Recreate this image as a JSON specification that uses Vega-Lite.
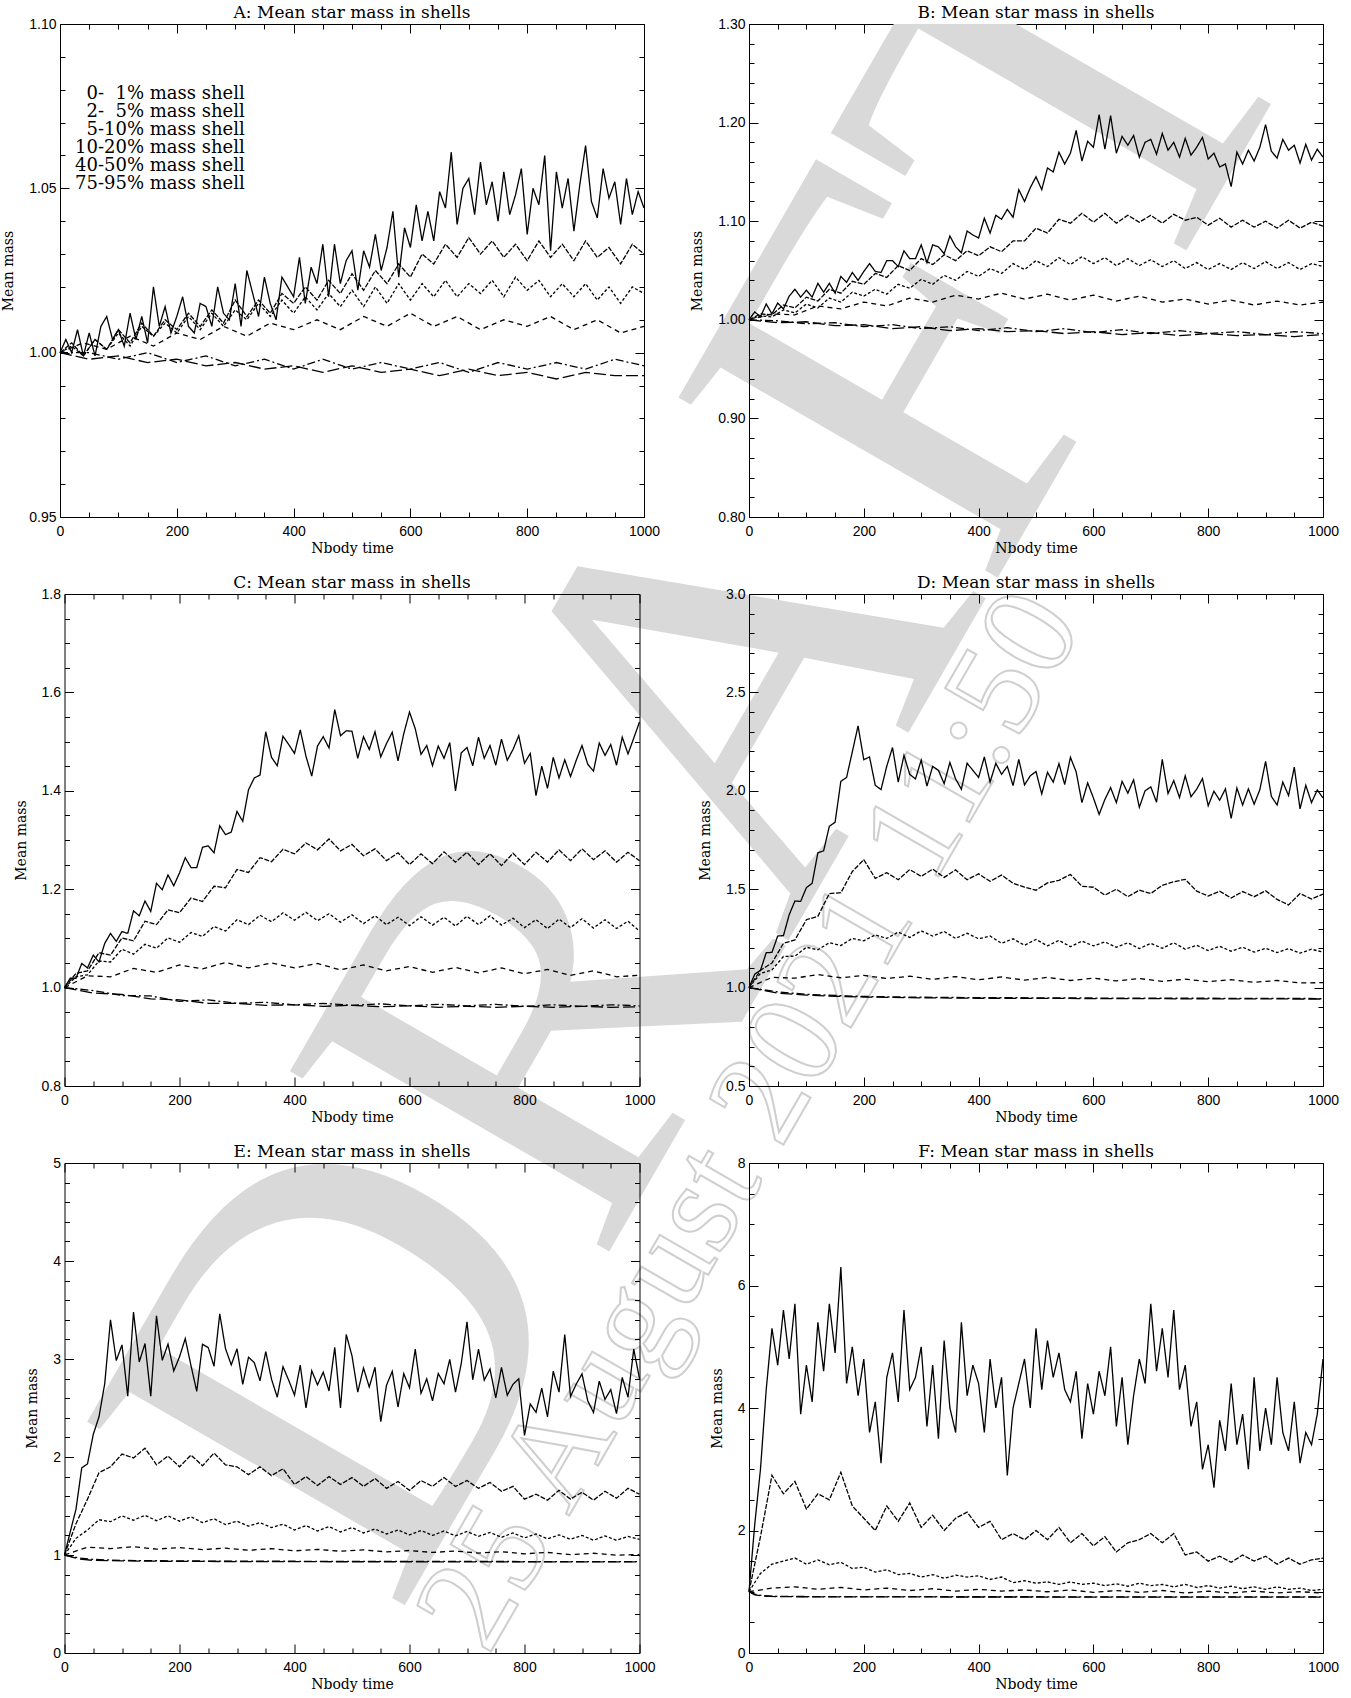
{
"$schema":"https://vega.github.io/schema/vega-lite/v6.json",
"padding":{"left":1,"top":3,"right":14,"bottom":4},
"background":"white",
"bounds":"flush",
"center":true,
"columns":2,
"spacing":{"row":77,"column":105},
"config":{
 "view":{"stroke":"black","strokeWidth":1},
 "axis":{"domain":false,"grid":false,"zindex":1,"tickColor":"black","tickSize":-9,"tickWidth":1,"labelFont":"Liberation Sans","labelFontSize":14,"labelColor":"black","labelFlush":false,"labelOverlap":false,"labelPadding":13,"titleFont":"DejaVu Serif","titleFontSize":14,"titleFontWeight":"normal","titleColor":"black","minExtent":0},
 "axisBottom":{"labelPadding":16,"titlePadding":3,"format":"d"},
 "axisLeft":{"titlePadding":13},
 "title":{"font":"DejaVu Serif","fontSize":17,"fontWeight":"normal","color":"black","offset":-5,"anchor":"middle"},
 "legend":{"labelFont":"DejaVu Serif","labelFontSize":18,"labelColor":"black","labelLimit":400,"symbolSize":0,"symbolOpacity":0,"symbolStrokeWidth":0,"labelOffset":0,"rowPadding":0,"padding":0}
},
"concat":[
{"width":584,"height":493,"data":{"name":"A"},"title":"A: Mean star mass in shells",
"layer":[
{"data":{"values":[{}]},"mark":{"type":"text","text":"D","font":"Liberation Serif","fontSize":560,"angle":300,"fill":"#d9d9d9","align":"center","baseline":"middle"},"encoding":{"x":{"datum":500.5,"type":"quantitative","axis":null},"y":{"datum":0.6935,"type":"quantitative","axis":null}}},
{"data":{"values":[{}]},"mark":{"type":"text","text":"R","font":"Liberation Serif","fontSize":560,"angle":300,"fill":"#d9d9d9","align":"center","baseline":"middle"},"encoding":{"x":{"datum":834.4,"type":"quantitative","axis":null},"y":{"datum":0.7961,"type":"quantitative","axis":null}}},
{"data":{"values":[{}]},"mark":{"type":"text","text":"A","font":"Liberation Serif","fontSize":560,"angle":300,"fill":"#d9d9d9","align":"center","baseline":"middle"},"encoding":{"x":{"datum":1166.6,"type":"quantitative","axis":null},"y":{"datum":0.8986,"type":"quantitative","axis":null}}},
{"data":{"values":[{}]},"mark":{"type":"text","text":"F","font":"Liberation Serif","fontSize":560,"angle":300,"fill":"#d9d9d9","align":"center","baseline":"middle"},"encoding":{"x":{"datum":1473.1,"type":"quantitative","axis":null},"y":{"datum":0.9929,"type":"quantitative","axis":null}}},
{"data":{"values":[{}]},"mark":{"type":"text","text":"25 August 2021 11:50","font":"Liberation Serif","fontSize":135,"angle":300,"fill":"white","stroke":"#cfcfcf","strokeWidth":2,"align":"center","baseline":"middle"},"encoding":{"x":{"datum":1182.0,"type":"quantitative","axis":null},"y":{"datum":0.7665,"type":"quantitative","axis":null}}},
{"mark":{"type":"line","color":"black","strokeWidth":1.3},
"encoding":{
"x":{"field":"t","type":"quantitative","scale":{"domain":[0,1000],"nice":false},"axis":{"orient":"bottom","values":[0,200,400,600,800,1000],"title":"Nbody time"}},
"y":{"field":"m","type":"quantitative","scale":{"domain":[0.95,1.1],"nice":false,"zero":false},"axis":{"orient":"left","values":[0.95,1,1.05,1.1],"format":".2f","title":"Mean mass"}},
"strokeDash":{"field":"s","type":"nominal","scale":{"domain":[1,2,3,4,5,6],"range":[[1,0],[5,1.5],[3,2],[5,4],[8,3,2,3],[12,4]]},"legend":{"orient":"none","legendX":-3,"legendY":61,"title":null,"labelExpr":"['','\u200b\u20070-\u20071%','\u200b\u20072-\u20075%','\u200b\u20075-10%','10-20%','40-50%','75-95%'][datum.value] + ' mass shell'"}}}},
{"mark":{"type":"line","opacity":0},"encoding":{"x":{"field":"t","type":"quantitative","axis":{"orient":"top","values":[0,200,400,600,800,1000],"labels":false,"title":null}},"y":{"field":"m","type":"quantitative","axis":{"orient":"right","values":[0.95,1,1.05,1.1],"labels":false,"title":null}},"detail":{"field":"s"}}},
{"mark":{"type":"line","opacity":0},"encoding":{"x":{"field":"t","type":"quantitative","axis":{"orient":"bottom","values":[50,100,150,250,300,350,450,500,550,650,700,750,850,900,950],"labels":false,"tickSize":-5,"title":null}},"y":{"field":"m","type":"quantitative","axis":{"orient":"left","values":[0.96,0.97,0.98,0.99,1.01,1.02,1.03,1.04,1.06,1.07,1.08,1.09],"labels":false,"tickSize":-5,"title":null}},"detail":{"field":"s"}}},
{"mark":{"type":"line","opacity":0},"encoding":{"x":{"field":"t","type":"quantitative","axis":{"orient":"top","values":[50,100,150,250,300,350,450,500,550,650,700,750,850,900,950],"labels":false,"tickSize":-5,"title":null}},"y":{"field":"m","type":"quantitative","axis":{"orient":"right","values":[0.96,0.97,0.98,0.99,1.01,1.02,1.03,1.04,1.06,1.07,1.08,1.09],"labels":false,"tickSize":-5,"title":null}},"detail":{"field":"s"}}}
],
"resolve":{"axis":{"x":"independent","y":"independent"}}},
{"width":574,"height":493,"data":{"name":"B"},"title":"B: Mean star mass in shells",
"layer":[
{"data":{"values":[{}]},"mark":{"type":"text","text":"T","font":"Liberation Serif","fontSize":560,"angle":300,"fill":"#d9d9d9","align":"center","baseline":"middle","clip":true},"encoding":{"x":{"datum":582.4,"type":"quantitative","axis":null},"y":{"datum":1.23,"type":"quantitative","axis":null}}},
{"mark":{"type":"line","color":"black","strokeWidth":1.3},
"encoding":{
"x":{"field":"t","type":"quantitative","scale":{"domain":[0,1000],"nice":false},"axis":{"orient":"bottom","values":[0,200,400,600,800,1000],"title":"Nbody time"}},
"y":{"field":"m","type":"quantitative","scale":{"domain":[0.8,1.3],"nice":false,"zero":false},"axis":{"orient":"left","values":[0.8,0.9,1,1.1,1.2,1.3],"format":".2f","title":"Mean mass"}},
"strokeDash":{"field":"s","type":"nominal","scale":{"domain":[1,2,3,4,5,6],"range":[[1,0],[5,1.5],[3,2],[5,4],[8,3,2,3],[12,4]]}}}},
{"mark":{"type":"line","opacity":0},"encoding":{"x":{"field":"t","type":"quantitative","axis":{"orient":"top","values":[0,200,400,600,800,1000],"labels":false,"title":null}},"y":{"field":"m","type":"quantitative","axis":{"orient":"right","values":[0.8,0.9,1,1.1,1.2,1.3],"labels":false,"title":null}},"detail":{"field":"s"}}},
{"mark":{"type":"line","opacity":0},"encoding":{"x":{"field":"t","type":"quantitative","axis":{"orient":"bottom","values":[50,100,150,250,300,350,450,500,550,650,700,750,850,900,950],"labels":false,"tickSize":-5,"title":null}},"y":{"field":"m","type":"quantitative","axis":{"orient":"left","values":[0.82,0.84,0.86,0.88,0.92,0.94,0.96,0.98,1.02,1.04,1.06,1.08,1.12,1.14,1.16,1.18,1.22,1.24,1.26,1.28],"labels":false,"tickSize":-5,"title":null}},"detail":{"field":"s"}}},
{"mark":{"type":"line","opacity":0},"encoding":{"x":{"field":"t","type":"quantitative","axis":{"orient":"top","values":[50,100,150,250,300,350,450,500,550,650,700,750,850,900,950],"labels":false,"tickSize":-5,"title":null}},"y":{"field":"m","type":"quantitative","axis":{"orient":"right","values":[0.82,0.84,0.86,0.88,0.92,0.94,0.96,0.98,1.02,1.04,1.06,1.08,1.12,1.14,1.16,1.18,1.22,1.24,1.26,1.28],"labels":false,"tickSize":-5,"title":null}},"detail":{"field":"s"}}}
],
"resolve":{"axis":{"x":"independent","y":"independent"}}},
{"width":575,"height":492,"data":{"name":"C"},"title":"C: Mean star mass in shells",
"layer":[
{"mark":{"type":"line","color":"black","strokeWidth":1.3},
"encoding":{
"x":{"field":"t","type":"quantitative","scale":{"domain":[0,1000],"nice":false},"axis":{"orient":"bottom","values":[0,200,400,600,800,1000],"title":"Nbody time"}},
"y":{"field":"m","type":"quantitative","scale":{"domain":[0.8,1.8],"nice":false,"zero":false},"axis":{"orient":"left","values":[0.8,1,1.2,1.4,1.6,1.8],"format":".1f","title":"Mean mass"}},
"strokeDash":{"field":"s","type":"nominal","scale":{"domain":[1,2,3,4,5,6],"range":[[1,0],[5,1.5],[3,2],[5,4],[8,3,2,3],[12,4]]}}}},
{"mark":{"type":"line","opacity":0},"encoding":{"x":{"field":"t","type":"quantitative","axis":{"orient":"top","values":[0,200,400,600,800,1000],"labels":false,"title":null}},"y":{"field":"m","type":"quantitative","axis":{"orient":"right","values":[0.8,1,1.2,1.4,1.6,1.8],"labels":false,"title":null}},"detail":{"field":"s"}}},
{"mark":{"type":"line","opacity":0},"encoding":{"x":{"field":"t","type":"quantitative","axis":{"orient":"bottom","values":[50,100,150,250,300,350,450,500,550,650,700,750,850,900,950],"labels":false,"tickSize":-5,"title":null}},"y":{"field":"m","type":"quantitative","axis":{"orient":"left","values":[0.85,0.9,0.95,1.05,1.1,1.15,1.25,1.3,1.35,1.45,1.5,1.55,1.65,1.7,1.75],"labels":false,"tickSize":-5,"title":null}},"detail":{"field":"s"}}},
{"mark":{"type":"line","opacity":0},"encoding":{"x":{"field":"t","type":"quantitative","axis":{"orient":"top","values":[50,100,150,250,300,350,450,500,550,650,700,750,850,900,950],"labels":false,"tickSize":-5,"title":null}},"y":{"field":"m","type":"quantitative","axis":{"orient":"right","values":[0.85,0.9,0.95,1.05,1.1,1.15,1.25,1.3,1.35,1.45,1.5,1.55,1.65,1.7,1.75],"labels":false,"tickSize":-5,"title":null}},"detail":{"field":"s"}}}
],
"resolve":{"axis":{"x":"independent","y":"independent"}}},
{"width":574,"height":492,"data":{"name":"D"},"title":"D: Mean star mass in shells",
"layer":[
{"mark":{"type":"line","color":"black","strokeWidth":1.3},
"encoding":{
"x":{"field":"t","type":"quantitative","scale":{"domain":[0,1000],"nice":false},"axis":{"orient":"bottom","values":[0,200,400,600,800,1000],"title":"Nbody time"}},
"y":{"field":"m","type":"quantitative","scale":{"domain":[0.5,3],"nice":false,"zero":false},"axis":{"orient":"left","values":[0.5,1,1.5,2,2.5,3],"format":".1f","title":"Mean mass"}},
"strokeDash":{"field":"s","type":"nominal","scale":{"domain":[1,2,3,4,5,6],"range":[[1,0],[5,1.5],[3,2],[5,4],[8,3,2,3],[12,4]]}}}},
{"mark":{"type":"line","opacity":0},"encoding":{"x":{"field":"t","type":"quantitative","axis":{"orient":"top","values":[0,200,400,600,800,1000],"labels":false,"title":null}},"y":{"field":"m","type":"quantitative","axis":{"orient":"right","values":[0.5,1,1.5,2,2.5,3],"labels":false,"title":null}},"detail":{"field":"s"}}},
{"mark":{"type":"line","opacity":0},"encoding":{"x":{"field":"t","type":"quantitative","axis":{"orient":"bottom","values":[50,100,150,250,300,350,450,500,550,650,700,750,850,900,950],"labels":false,"tickSize":-5,"title":null}},"y":{"field":"m","type":"quantitative","axis":{"orient":"left","values":[0.6,0.7,0.8,0.9,1.1,1.2,1.3,1.4,1.6,1.7,1.8,1.9,2.1,2.2,2.3,2.4,2.6,2.7,2.8,2.9],"labels":false,"tickSize":-5,"title":null}},"detail":{"field":"s"}}},
{"mark":{"type":"line","opacity":0},"encoding":{"x":{"field":"t","type":"quantitative","axis":{"orient":"top","values":[50,100,150,250,300,350,450,500,550,650,700,750,850,900,950],"labels":false,"tickSize":-5,"title":null}},"y":{"field":"m","type":"quantitative","axis":{"orient":"right","values":[0.6,0.7,0.8,0.9,1.1,1.2,1.3,1.4,1.6,1.7,1.8,1.9,2.1,2.2,2.3,2.4,2.6,2.7,2.8,2.9],"labels":false,"tickSize":-5,"title":null}},"detail":{"field":"s"}}}
],
"resolve":{"axis":{"x":"independent","y":"independent"}}},
{"width":575,"height":490,"data":{"name":"E"},"title":"E: Mean star mass in shells",
"layer":[
{"mark":{"type":"line","color":"black","strokeWidth":1.3},
"encoding":{
"x":{"field":"t","type":"quantitative","scale":{"domain":[0,1000],"nice":false},"axis":{"orient":"bottom","values":[0,200,400,600,800,1000],"title":"Nbody time"}},
"y":{"field":"m","type":"quantitative","scale":{"domain":[0,5],"nice":false,"zero":false},"axis":{"orient":"left","values":[0,1,2,3,4,5],"format":"d","title":"Mean mass"}},
"strokeDash":{"field":"s","type":"nominal","scale":{"domain":[1,2,3,4,5,6],"range":[[1,0],[5,1.5],[3,2],[5,4],[8,3,2,3],[12,4]]}}}},
{"mark":{"type":"line","opacity":0},"encoding":{"x":{"field":"t","type":"quantitative","axis":{"orient":"top","values":[0,200,400,600,800,1000],"labels":false,"title":null}},"y":{"field":"m","type":"quantitative","axis":{"orient":"right","values":[0,1,2,3,4,5],"labels":false,"title":null}},"detail":{"field":"s"}}},
{"mark":{"type":"line","opacity":0},"encoding":{"x":{"field":"t","type":"quantitative","axis":{"orient":"bottom","values":[50,100,150,250,300,350,450,500,550,650,700,750,850,900,950],"labels":false,"tickSize":-5,"title":null}},"y":{"field":"m","type":"quantitative","axis":{"orient":"left","values":[0.2,0.4,0.6,0.8,1.2,1.4,1.6,1.8,2.2,2.4,2.6,2.8,3.2,3.4,3.6,3.8,4.2,4.4,4.6,4.8],"labels":false,"tickSize":-5,"title":null}},"detail":{"field":"s"}}},
{"mark":{"type":"line","opacity":0},"encoding":{"x":{"field":"t","type":"quantitative","axis":{"orient":"top","values":[50,100,150,250,300,350,450,500,550,650,700,750,850,900,950],"labels":false,"tickSize":-5,"title":null}},"y":{"field":"m","type":"quantitative","axis":{"orient":"right","values":[0.2,0.4,0.6,0.8,1.2,1.4,1.6,1.8,2.2,2.4,2.6,2.8,3.2,3.4,3.6,3.8,4.2,4.4,4.6,4.8],"labels":false,"tickSize":-5,"title":null}},"detail":{"field":"s"}}}
],
"resolve":{"axis":{"x":"independent","y":"independent"}}},
{"width":574,"height":490,"data":{"name":"F"},"title":"F: Mean star mass in shells",
"layer":[
{"mark":{"type":"line","color":"black","strokeWidth":1.3},
"encoding":{
"x":{"field":"t","type":"quantitative","scale":{"domain":[0,1000],"nice":false},"axis":{"orient":"bottom","values":[0,200,400,600,800,1000],"title":"Nbody time"}},
"y":{"field":"m","type":"quantitative","scale":{"domain":[0,8],"nice":false,"zero":false},"axis":{"orient":"left","values":[0,2,4,6,8],"format":"d","title":"Mean mass"}},
"strokeDash":{"field":"s","type":"nominal","scale":{"domain":[1,2,3,4,5,6],"range":[[1,0],[5,1.5],[3,2],[5,4],[8,3,2,3],[12,4]]}}}},
{"mark":{"type":"line","opacity":0},"encoding":{"x":{"field":"t","type":"quantitative","axis":{"orient":"top","values":[0,200,400,600,800,1000],"labels":false,"title":null}},"y":{"field":"m","type":"quantitative","axis":{"orient":"right","values":[0,2,4,6,8],"labels":false,"title":null}},"detail":{"field":"s"}}},
{"mark":{"type":"line","opacity":0},"encoding":{"x":{"field":"t","type":"quantitative","axis":{"orient":"bottom","values":[50,100,150,250,300,350,450,500,550,650,700,750,850,900,950],"labels":false,"tickSize":-5,"title":null}},"y":{"field":"m","type":"quantitative","axis":{"orient":"left","values":[0.5,1,1.5,2.5,3,3.5,4.5,5,5.5,6.5,7,7.5],"labels":false,"tickSize":-5,"title":null}},"detail":{"field":"s"}}},
{"mark":{"type":"line","opacity":0},"encoding":{"x":{"field":"t","type":"quantitative","axis":{"orient":"top","values":[50,100,150,250,300,350,450,500,550,650,700,750,850,900,950],"labels":false,"tickSize":-5,"title":null}},"y":{"field":"m","type":"quantitative","axis":{"orient":"right","values":[0.5,1,1.5,2.5,3,3.5,4.5,5,5.5,6.5,7,7.5],"labels":false,"tickSize":-5,"title":null}},"detail":{"field":"s"}}}
],
"resolve":{"axis":{"x":"independent","y":"independent"}}}
],
"datasets":{
"A":[
{"s":1,"t":0,"m":1.000},{"s":1,"t":10,"m":1.004},{"s":1,"t":20,"m":1.000},{"s":1,"t":30,"m":1.007},{"s":1,"t":40,"m":0.999},{"s":1,"t":50,"m":1.006},{"s":1,"t":60,"m":0.999},{"s":1,"t":70,"m":1.008},{"s":1,"t":80,"m":1.011},{"s":1,"t":90,"m":1.004},
{"s":1,"t":100,"m":1.007},{"s":1,"t":110,"m":1.002},{"s":1,"t":120,"m":1.012},{"s":1,"t":130,"m":1.004},{"s":1,"t":140,"m":1.011},{"s":1,"t":150,"m":1.003},{"s":1,"t":160,"m":1.020},{"s":1,"t":170,"m":1.008},{"s":1,"t":180,"m":1.014},{"s":1,"t":190,"m":1.006},
{"s":1,"t":200,"m":1.011},{"s":1,"t":210,"m":1.017},{"s":1,"t":220,"m":1.008},{"s":1,"t":230,"m":1.006},{"s":1,"t":240,"m":1.015},{"s":1,"t":250,"m":1.014},{"s":1,"t":260,"m":1.008},{"s":1,"t":270,"m":1.020},{"s":1,"t":280,"m":1.012},{"s":1,"t":290,"m":1.010},
{"s":1,"t":300,"m":1.021},{"s":1,"t":310,"m":1.008},{"s":1,"t":320,"m":1.025},{"s":1,"t":330,"m":1.018},{"s":1,"t":340,"m":1.011},{"s":1,"t":350,"m":1.023},{"s":1,"t":360,"m":1.015},{"s":1,"t":370,"m":1.010},{"s":1,"t":380,"m":1.023},{"s":1,"t":390,"m":1.020},
{"s":1,"t":400,"m":1.017},{"s":1,"t":410,"m":1.029},{"s":1,"t":420,"m":1.015},{"s":1,"t":430,"m":1.026},{"s":1,"t":440,"m":1.021},{"s":1,"t":450,"m":1.033},{"s":1,"t":460,"m":1.017},{"s":1,"t":470,"m":1.033},{"s":1,"t":480,"m":1.021},{"s":1,"t":490,"m":1.028},
{"s":1,"t":500,"m":1.031},{"s":1,"t":510,"m":1.019},{"s":1,"t":520,"m":1.031},{"s":1,"t":530,"m":1.026},{"s":1,"t":540,"m":1.036},{"s":1,"t":550,"m":1.025},{"s":1,"t":560,"m":1.032},{"s":1,"t":570,"m":1.043},{"s":1,"t":580,"m":1.023},{"s":1,"t":590,"m":1.038},
{"s":1,"t":600,"m":1.032},{"s":1,"t":610,"m":1.045},{"s":1,"t":620,"m":1.034},{"s":1,"t":630,"m":1.043},{"s":1,"t":640,"m":1.034},{"s":1,"t":650,"m":1.049},{"s":1,"t":660,"m":1.044},{"s":1,"t":670,"m":1.061},{"s":1,"t":680,"m":1.039},{"s":1,"t":690,"m":1.050},
{"s":1,"t":700,"m":1.053},{"s":1,"t":710,"m":1.042},{"s":1,"t":720,"m":1.058},{"s":1,"t":730,"m":1.045},{"s":1,"t":740,"m":1.052},{"s":1,"t":750,"m":1.040},{"s":1,"t":760,"m":1.055},{"s":1,"t":770,"m":1.042},{"s":1,"t":780,"m":1.048},{"s":1,"t":790,"m":1.056},
{"s":1,"t":800,"m":1.036},{"s":1,"t":810,"m":1.050},{"s":1,"t":820,"m":1.045},{"s":1,"t":830,"m":1.060},{"s":1,"t":840,"m":1.031},{"s":1,"t":850,"m":1.055},{"s":1,"t":860,"m":1.044},{"s":1,"t":870,"m":1.053},{"s":1,"t":880,"m":1.037},{"s":1,"t":890,"m":1.051},
{"s":1,"t":900,"m":1.063},{"s":1,"t":910,"m":1.046},{"s":1,"t":920,"m":1.041},{"s":1,"t":930,"m":1.056},{"s":1,"t":940,"m":1.047},{"s":1,"t":950,"m":1.052},{"s":1,"t":960,"m":1.039},{"s":1,"t":970,"m":1.053},{"s":1,"t":980,"m":1.042},{"s":1,"t":990,"m":1.049},{"s":1,"t":1000,"m":1.044},
{"s":2,"t":0,"m":1.000},{"s":2,"t":20,"m":1.003},{"s":2,"t":40,"m":0.999},{"s":2,"t":60,"m":1.004},{"s":2,"t":80,"m":1.001},{"s":2,"t":100,"m":1.007},{"s":2,"t":120,"m":1.003},{"s":2,"t":140,"m":1.009},{"s":2,"t":160,"m":1.005},{"s":2,"t":180,"m":1.010},
{"s":2,"t":200,"m":1.007},{"s":2,"t":220,"m":1.012},{"s":2,"t":240,"m":1.008},{"s":2,"t":260,"m":1.013},{"s":2,"t":280,"m":1.009},{"s":2,"t":300,"m":1.016},{"s":2,"t":320,"m":1.011},{"s":2,"t":340,"m":1.016},{"s":2,"t":360,"m":1.012},{"s":2,"t":380,"m":1.018},
{"s":2,"t":400,"m":1.015},{"s":2,"t":420,"m":1.020},{"s":2,"t":440,"m":1.016},{"s":2,"t":460,"m":1.022},{"s":2,"t":480,"m":1.018},{"s":2,"t":500,"m":1.024},{"s":2,"t":520,"m":1.019},{"s":2,"t":540,"m":1.025},{"s":2,"t":560,"m":1.021},{"s":2,"t":580,"m":1.027},
{"s":2,"t":600,"m":1.023},{"s":2,"t":620,"m":1.030},{"s":2,"t":640,"m":1.027},{"s":2,"t":660,"m":1.033},{"s":2,"t":680,"m":1.029},{"s":2,"t":700,"m":1.035},{"s":2,"t":720,"m":1.030},{"s":2,"t":740,"m":1.034},{"s":2,"t":760,"m":1.029},{"s":2,"t":780,"m":1.033},
{"s":2,"t":800,"m":1.028},{"s":2,"t":820,"m":1.034},{"s":2,"t":840,"m":1.029},{"s":2,"t":860,"m":1.033},{"s":2,"t":880,"m":1.028},{"s":2,"t":900,"m":1.034},{"s":2,"t":920,"m":1.029},{"s":2,"t":940,"m":1.032},{"s":2,"t":960,"m":1.027},{"s":2,"t":980,"m":1.033},{"s":2,"t":1000,"m":1.030},
{"s":3,"t":0,"m":1.000},{"s":3,"t":20,"m":1.002},{"s":3,"t":40,"m":0.999},{"s":3,"t":60,"m":1.004},{"s":3,"t":80,"m":1.001},{"s":3,"t":100,"m":1.006},{"s":3,"t":120,"m":1.002},{"s":3,"t":140,"m":1.008},{"s":3,"t":160,"m":1.005},{"s":3,"t":180,"m":1.009},
{"s":3,"t":200,"m":1.006},{"s":3,"t":220,"m":1.011},{"s":3,"t":240,"m":1.007},{"s":3,"t":260,"m":1.012},{"s":3,"t":280,"m":1.008},{"s":3,"t":300,"m":1.013},{"s":3,"t":320,"m":1.010},{"s":3,"t":340,"m":1.015},{"s":3,"t":360,"m":1.011},{"s":3,"t":380,"m":1.016},
{"s":3,"t":400,"m":1.012},{"s":3,"t":420,"m":1.017},{"s":3,"t":440,"m":1.013},{"s":3,"t":460,"m":1.018},{"s":3,"t":480,"m":1.014},{"s":3,"t":500,"m":1.019},{"s":3,"t":520,"m":1.014},{"s":3,"t":540,"m":1.020},{"s":3,"t":560,"m":1.015},{"s":3,"t":580,"m":1.021},
{"s":3,"t":600,"m":1.016},{"s":3,"t":620,"m":1.021},{"s":3,"t":640,"m":1.017},{"s":3,"t":660,"m":1.022},{"s":3,"t":680,"m":1.017},{"s":3,"t":700,"m":1.021},{"s":3,"t":720,"m":1.018},{"s":3,"t":740,"m":1.022},{"s":3,"t":760,"m":1.017},{"s":3,"t":780,"m":1.023},
{"s":3,"t":800,"m":1.019},{"s":3,"t":820,"m":1.022},{"s":3,"t":840,"m":1.017},{"s":3,"t":860,"m":1.021},{"s":3,"t":880,"m":1.017},{"s":3,"t":900,"m":1.021},{"s":3,"t":920,"m":1.016},{"s":3,"t":940,"m":1.020},{"s":3,"t":960,"m":1.015},{"s":3,"t":980,"m":1.020},{"s":3,"t":1000,"m":1.018},
{"s":4,"t":0,"m":1.000},{"s":4,"t":40,"m":1.003},{"s":4,"t":80,"m":1.001},{"s":4,"t":120,"m":1.005},{"s":4,"t":160,"m":1.002},{"s":4,"t":200,"m":1.006},{"s":4,"t":240,"m":1.004},{"s":4,"t":280,"m":1.008},{"s":4,"t":320,"m":1.005},{"s":4,"t":360,"m":1.009},{"s":4,"t":400,"m":1.007},{"s":4,"t":440,"m":1.010},{"s":4,"t":480,"m":1.007},
{"s":4,"t":520,"m":1.011},{"s":4,"t":560,"m":1.008},{"s":4,"t":600,"m":1.012},{"s":4,"t":640,"m":1.008},{"s":4,"t":680,"m":1.011},{"s":4,"t":720,"m":1.007},{"s":4,"t":760,"m":1.010},{"s":4,"t":800,"m":1.008},{"s":4,"t":840,"m":1.011},{"s":4,"t":880,"m":1.007},{"s":4,"t":920,"m":1.010},{"s":4,"t":960,"m":1.006},{"s":4,"t":1000,"m":1.008},
{"s":5,"t":0,"m":1.000},{"s":5,"t":50,"m":1.000},{"s":5,"t":100,"m":0.998},{"s":5,"t":150,"m":1.000},{"s":5,"t":200,"m":0.997},{"s":5,"t":250,"m":0.999},{"s":5,"t":300,"m":0.996},{"s":5,"t":350,"m":0.998},{"s":5,"t":400,"m":0.995},{"s":5,"t":450,"m":0.998},{"s":5,"t":500,"m":0.995},
{"s":5,"t":550,"m":0.997},{"s":5,"t":600,"m":0.995},{"s":5,"t":650,"m":0.997},{"s":5,"t":700,"m":0.994},{"s":5,"t":750,"m":0.997},{"s":5,"t":800,"m":0.995},{"s":5,"t":850,"m":0.997},{"s":5,"t":900,"m":0.995},{"s":5,"t":950,"m":0.998},{"s":5,"t":1000,"m":0.996},
{"s":6,"t":0,"m":1.000},{"s":6,"t":50,"m":0.998},{"s":6,"t":100,"m":0.999},{"s":6,"t":150,"m":0.997},{"s":6,"t":200,"m":0.998},{"s":6,"t":250,"m":0.996},{"s":6,"t":300,"m":0.997},{"s":6,"t":350,"m":0.995},{"s":6,"t":400,"m":0.996},{"s":6,"t":450,"m":0.994},{"s":6,"t":500,"m":0.996},
{"s":6,"t":550,"m":0.994},{"s":6,"t":600,"m":0.995},{"s":6,"t":650,"m":0.993},{"s":6,"t":700,"m":0.995},{"s":6,"t":750,"m":0.993},{"s":6,"t":800,"m":0.994},{"s":6,"t":850,"m":0.992},{"s":6,"t":900,"m":0.994},{"s":6,"t":950,"m":0.993},{"s":6,"t":1000,"m":0.993}
],
"B":[
{"s":1,"t":0,"m":1.000},{"s":1,"t":10,"m":1.008},{"s":1,"t":20,"m":1.003},{"s":1,"t":30,"m":1.016},{"s":1,"t":40,"m":1.006},{"s":1,"t":50,"m":1.017},{"s":1,"t":60,"m":1.011},{"s":1,"t":70,"m":1.024},{"s":1,"t":80,"m":1.031},{"s":1,"t":90,"m":1.023},
{"s":1,"t":100,"m":1.030},{"s":1,"t":110,"m":1.023},{"s":1,"t":120,"m":1.037},{"s":1,"t":130,"m":1.028},{"s":1,"t":140,"m":1.037},{"s":1,"t":150,"m":1.027},{"s":1,"t":160,"m":1.044},{"s":1,"t":170,"m":1.038},{"s":1,"t":180,"m":1.048},{"s":1,"t":190,"m":1.040},
{"s":1,"t":200,"m":1.049},{"s":1,"t":210,"m":1.057},{"s":1,"t":220,"m":1.049},{"s":1,"t":230,"m":1.048},{"s":1,"t":240,"m":1.060},{"s":1,"t":250,"m":1.060},{"s":1,"t":260,"m":1.054},{"s":1,"t":270,"m":1.070},{"s":1,"t":280,"m":1.062},{"s":1,"t":290,"m":1.062},
{"s":1,"t":300,"m":1.076},{"s":1,"t":310,"m":1.058},{"s":1,"t":320,"m":1.076},{"s":1,"t":330,"m":1.074},{"s":1,"t":340,"m":1.067},{"s":1,"t":350,"m":1.085},{"s":1,"t":360,"m":1.074},{"s":1,"t":370,"m":1.068},{"s":1,"t":380,"m":1.090},{"s":1,"t":390,"m":1.086},
{"s":1,"t":400,"m":1.083},{"s":1,"t":410,"m":1.103},{"s":1,"t":420,"m":1.088},{"s":1,"t":430,"m":1.106},{"s":1,"t":440,"m":1.102},{"s":1,"t":450,"m":1.112},{"s":1,"t":460,"m":1.104},{"s":1,"t":470,"m":1.132},{"s":1,"t":480,"m":1.120},{"s":1,"t":490,"m":1.134},
{"s":1,"t":500,"m":1.145},{"s":1,"t":510,"m":1.132},{"s":1,"t":520,"m":1.154},{"s":1,"t":530,"m":1.150},{"s":1,"t":540,"m":1.170},{"s":1,"t":550,"m":1.158},{"s":1,"t":560,"m":1.169},{"s":1,"t":570,"m":1.192},{"s":1,"t":580,"m":1.161},{"s":1,"t":590,"m":1.181},
{"s":1,"t":600,"m":1.175},{"s":1,"t":610,"m":1.208},{"s":1,"t":620,"m":1.173},{"s":1,"t":630,"m":1.207},{"s":1,"t":640,"m":1.169},{"s":1,"t":650,"m":1.186},{"s":1,"t":660,"m":1.177},{"s":1,"t":670,"m":1.187},{"s":1,"t":680,"m":1.165},{"s":1,"t":690,"m":1.180},
{"s":1,"t":700,"m":1.183},{"s":1,"t":710,"m":1.168},{"s":1,"t":720,"m":1.189},{"s":1,"t":730,"m":1.172},{"s":1,"t":740,"m":1.180},{"s":1,"t":750,"m":1.165},{"s":1,"t":760,"m":1.184},{"s":1,"t":770,"m":1.167},{"s":1,"t":780,"m":1.175},{"s":1,"t":790,"m":1.185},
{"s":1,"t":800,"m":1.163},{"s":1,"t":810,"m":1.169},{"s":1,"t":820,"m":1.155},{"s":1,"t":830,"m":1.158},{"s":1,"t":840,"m":1.135},{"s":1,"t":850,"m":1.170},{"s":1,"t":860,"m":1.158},{"s":1,"t":870,"m":1.172},{"s":1,"t":880,"m":1.161},{"s":1,"t":890,"m":1.175},
{"s":1,"t":900,"m":1.198},{"s":1,"t":910,"m":1.171},{"s":1,"t":920,"m":1.164},{"s":1,"t":930,"m":1.183},{"s":1,"t":940,"m":1.172},{"s":1,"t":950,"m":1.177},{"s":1,"t":960,"m":1.159},{"s":1,"t":970,"m":1.178},{"s":1,"t":980,"m":1.162},{"s":1,"t":990,"m":1.173},{"s":1,"t":1000,"m":1.165},
{"s":2,"t":0,"m":1.000},{"s":2,"t":20,"m":1.006},{"s":2,"t":40,"m":1.005},{"s":2,"t":60,"m":1.015},{"s":2,"t":80,"m":1.012},{"s":2,"t":100,"m":1.023},{"s":2,"t":120,"m":1.019},{"s":2,"t":140,"m":1.031},{"s":2,"t":160,"m":1.027},{"s":2,"t":180,"m":1.039},
{"s":2,"t":200,"m":1.036},{"s":2,"t":220,"m":1.047},{"s":2,"t":240,"m":1.043},{"s":2,"t":260,"m":1.055},{"s":2,"t":280,"m":1.050},{"s":2,"t":300,"m":1.062},{"s":2,"t":320,"m":1.056},{"s":2,"t":340,"m":1.066},{"s":2,"t":360,"m":1.060},{"s":2,"t":380,"m":1.070},
{"s":2,"t":400,"m":1.065},{"s":2,"t":420,"m":1.074},{"s":2,"t":440,"m":1.069},{"s":2,"t":460,"m":1.080},{"s":2,"t":480,"m":1.080},{"s":2,"t":500,"m":1.093},{"s":2,"t":520,"m":1.088},{"s":2,"t":540,"m":1.102},{"s":2,"t":560,"m":1.098},{"s":2,"t":580,"m":1.108},
{"s":2,"t":600,"m":1.099},{"s":2,"t":620,"m":1.108},{"s":2,"t":640,"m":1.098},{"s":2,"t":660,"m":1.106},{"s":2,"t":680,"m":1.099},{"s":2,"t":700,"m":1.106},{"s":2,"t":720,"m":1.098},{"s":2,"t":740,"m":1.107},{"s":2,"t":760,"m":1.101},{"s":2,"t":780,"m":1.104},
{"s":2,"t":800,"m":1.096},{"s":2,"t":820,"m":1.103},{"s":2,"t":840,"m":1.094},{"s":2,"t":860,"m":1.101},{"s":2,"t":880,"m":1.094},{"s":2,"t":900,"m":1.100},{"s":2,"t":920,"m":1.093},{"s":2,"t":940,"m":1.101},{"s":2,"t":960,"m":1.093},{"s":2,"t":980,"m":1.099},{"s":2,"t":1000,"m":1.095},
{"s":3,"t":0,"m":1.000},{"s":3,"t":20,"m":1.004},{"s":3,"t":40,"m":1.003},{"s":3,"t":60,"m":1.010},{"s":3,"t":80,"m":1.007},{"s":3,"t":100,"m":1.016},{"s":3,"t":120,"m":1.012},{"s":3,"t":140,"m":1.022},{"s":3,"t":160,"m":1.018},{"s":3,"t":180,"m":1.028},
{"s":3,"t":200,"m":1.024},{"s":3,"t":220,"m":1.031},{"s":3,"t":240,"m":1.026},{"s":3,"t":260,"m":1.036},{"s":3,"t":280,"m":1.032},{"s":3,"t":300,"m":1.041},{"s":3,"t":320,"m":1.036},{"s":3,"t":340,"m":1.045},{"s":3,"t":360,"m":1.040},{"s":3,"t":380,"m":1.049},
{"s":3,"t":400,"m":1.044},{"s":3,"t":420,"m":1.052},{"s":3,"t":440,"m":1.047},{"s":3,"t":460,"m":1.057},{"s":3,"t":480,"m":1.051},{"s":3,"t":500,"m":1.060},{"s":3,"t":520,"m":1.054},{"s":3,"t":540,"m":1.063},{"s":3,"t":560,"m":1.056},{"s":3,"t":580,"m":1.064},
{"s":3,"t":600,"m":1.057},{"s":3,"t":620,"m":1.063},{"s":3,"t":640,"m":1.055},{"s":3,"t":660,"m":1.062},{"s":3,"t":680,"m":1.055},{"s":3,"t":700,"m":1.061},{"s":3,"t":720,"m":1.054},{"s":3,"t":740,"m":1.060},{"s":3,"t":760,"m":1.052},{"s":3,"t":780,"m":1.058},
{"s":3,"t":800,"m":1.051},{"s":3,"t":820,"m":1.057},{"s":3,"t":840,"m":1.051},{"s":3,"t":860,"m":1.058},{"s":3,"t":880,"m":1.052},{"s":3,"t":900,"m":1.059},{"s":3,"t":920,"m":1.052},{"s":3,"t":940,"m":1.058},{"s":3,"t":960,"m":1.051},{"s":3,"t":980,"m":1.057},{"s":3,"t":1000,"m":1.054},
{"s":4,"t":0,"m":1.000},{"s":4,"t":40,"m":1.006},{"s":4,"t":80,"m":1.005},{"s":4,"t":120,"m":1.014},{"s":4,"t":160,"m":1.011},{"s":4,"t":200,"m":1.018},{"s":4,"t":240,"m":1.014},{"s":4,"t":280,"m":1.022},{"s":4,"t":320,"m":1.018},{"s":4,"t":360,"m":1.025},{"s":4,"t":400,"m":1.021},{"s":4,"t":440,"m":1.027},{"s":4,"t":480,"m":1.021},
{"s":4,"t":520,"m":1.026},{"s":4,"t":560,"m":1.020},{"s":4,"t":600,"m":1.025},{"s":4,"t":640,"m":1.019},{"s":4,"t":680,"m":1.024},{"s":4,"t":720,"m":1.018},{"s":4,"t":760,"m":1.021},{"s":4,"t":800,"m":1.016},{"s":4,"t":840,"m":1.020},{"s":4,"t":880,"m":1.015},{"s":4,"t":920,"m":1.019},{"s":4,"t":960,"m":1.015},{"s":4,"t":1000,"m":1.018},
{"s":5,"t":0,"m":1.000},{"s":5,"t":50,"m":0.999},{"s":5,"t":100,"m":0.996},{"s":5,"t":150,"m":0.997},{"s":5,"t":200,"m":0.993},{"s":5,"t":250,"m":0.995},{"s":5,"t":300,"m":0.991},{"s":5,"t":350,"m":0.993},{"s":5,"t":400,"m":0.989},{"s":5,"t":450,"m":0.992},{"s":5,"t":500,"m":0.988},
{"s":5,"t":550,"m":0.991},{"s":5,"t":600,"m":0.987},{"s":5,"t":650,"m":0.990},{"s":5,"t":700,"m":0.986},{"s":5,"t":750,"m":0.989},{"s":5,"t":800,"m":0.986},{"s":5,"t":850,"m":0.988},{"s":5,"t":900,"m":0.985},{"s":5,"t":950,"m":0.988},{"s":5,"t":1000,"m":0.986},
{"s":6,"t":0,"m":1.000},{"s":6,"t":50,"m":0.997},{"s":6,"t":100,"m":0.998},{"s":6,"t":150,"m":0.994},{"s":6,"t":200,"m":0.995},{"s":6,"t":250,"m":0.991},{"s":6,"t":300,"m":0.993},{"s":6,"t":350,"m":0.989},{"s":6,"t":400,"m":0.991},{"s":6,"t":450,"m":0.988},{"s":6,"t":500,"m":0.989},
{"s":6,"t":550,"m":0.986},{"s":6,"t":600,"m":0.988},{"s":6,"t":650,"m":0.985},{"s":6,"t":700,"m":0.987},{"s":6,"t":750,"m":0.984},{"s":6,"t":800,"m":0.986},{"s":6,"t":850,"m":0.984},{"s":6,"t":900,"m":0.985},{"s":6,"t":950,"m":0.983},{"s":6,"t":1000,"m":0.985}
],
"C":[
{"s":1,"t":0,"m":1.000},{"s":1,"t":10,"m":1.019},{"s":1,"t":20,"m":1.019},{"s":1,"t":30,"m":1.049},{"s":1,"t":40,"m":1.040},{"s":1,"t":50,"m":1.066},{"s":1,"t":60,"m":1.052},{"s":1,"t":70,"m":1.090},{"s":1,"t":80,"m":1.110},{"s":1,"t":90,"m":1.094},
{"s":1,"t":100,"m":1.114},{"s":1,"t":110,"m":1.110},{"s":1,"t":120,"m":1.156},{"s":1,"t":130,"m":1.146},{"s":1,"t":140,"m":1.176},{"s":1,"t":150,"m":1.155},{"s":1,"t":160,"m":1.212},{"s":1,"t":170,"m":1.199},{"s":1,"t":180,"m":1.229},{"s":1,"t":190,"m":1.207},
{"s":1,"t":200,"m":1.233},{"s":1,"t":210,"m":1.264},{"s":1,"t":220,"m":1.244},{"s":1,"t":230,"m":1.244},{"s":1,"t":240,"m":1.285},{"s":1,"t":250,"m":1.288},{"s":1,"t":260,"m":1.274},{"s":1,"t":270,"m":1.329},{"s":1,"t":280,"m":1.311},{"s":1,"t":290,"m":1.316},
{"s":1,"t":300,"m":1.358},{"s":1,"t":310,"m":1.338},{"s":1,"t":320,"m":1.402},{"s":1,"t":330,"m":1.426},{"s":1,"t":340,"m":1.432},{"s":1,"t":350,"m":1.520},{"s":1,"t":360,"m":1.468},{"s":1,"t":370,"m":1.451},{"s":1,"t":380,"m":1.511},{"s":1,"t":390,"m":1.494},
{"s":1,"t":400,"m":1.476},{"s":1,"t":410,"m":1.524},{"s":1,"t":420,"m":1.470},{"s":1,"t":430,"m":1.430},{"s":1,"t":440,"m":1.491},{"s":1,"t":450,"m":1.510},{"s":1,"t":460,"m":1.487},{"s":1,"t":470,"m":1.565},{"s":1,"t":480,"m":1.512},{"s":1,"t":490,"m":1.522},
{"s":1,"t":500,"m":1.521},{"s":1,"t":510,"m":1.466},{"s":1,"t":520,"m":1.510},{"s":1,"t":530,"m":1.484},{"s":1,"t":540,"m":1.520},{"s":1,"t":550,"m":1.469},{"s":1,"t":560,"m":1.496},{"s":1,"t":570,"m":1.519},{"s":1,"t":580,"m":1.461},{"s":1,"t":590,"m":1.516},
{"s":1,"t":600,"m":1.560},{"s":1,"t":610,"m":1.526},{"s":1,"t":620,"m":1.474},{"s":1,"t":630,"m":1.492},{"s":1,"t":640,"m":1.451},{"s":1,"t":650,"m":1.491},{"s":1,"t":660,"m":1.466},{"s":1,"t":670,"m":1.498},{"s":1,"t":680,"m":1.400},{"s":1,"t":690,"m":1.477},
{"s":1,"t":700,"m":1.488},{"s":1,"t":710,"m":1.451},{"s":1,"t":720,"m":1.509},{"s":1,"t":730,"m":1.466},{"s":1,"t":740,"m":1.492},{"s":1,"t":750,"m":1.452},{"s":1,"t":760,"m":1.505},{"s":1,"t":770,"m":1.462},{"s":1,"t":780,"m":1.484},{"s":1,"t":790,"m":1.512},
{"s":1,"t":800,"m":1.456},{"s":1,"t":810,"m":1.476},{"s":1,"t":820,"m":1.390},{"s":1,"t":830,"m":1.450},{"s":1,"t":840,"m":1.405},{"s":1,"t":850,"m":1.468},{"s":1,"t":860,"m":1.426},{"s":1,"t":870,"m":1.463},{"s":1,"t":880,"m":1.429},{"s":1,"t":890,"m":1.462},
{"s":1,"t":900,"m":1.492},{"s":1,"t":910,"m":1.454},{"s":1,"t":920,"m":1.440},{"s":1,"t":930,"m":1.497},{"s":1,"t":940,"m":1.472},{"s":1,"t":950,"m":1.494},{"s":1,"t":960,"m":1.452},{"s":1,"t":970,"m":1.509},{"s":1,"t":980,"m":1.475},{"s":1,"t":990,"m":1.507},{"s":1,"t":1000,"m":1.540},
{"s":2,"t":0,"m":1.000},{"s":2,"t":20,"m":1.029},{"s":2,"t":40,"m":1.034},{"s":2,"t":60,"m":1.071},{"s":2,"t":80,"m":1.066},{"s":2,"t":100,"m":1.101},{"s":2,"t":120,"m":1.095},{"s":2,"t":140,"m":1.135},{"s":2,"t":160,"m":1.128},{"s":2,"t":180,"m":1.158},
{"s":2,"t":200,"m":1.152},{"s":2,"t":220,"m":1.182},{"s":2,"t":240,"m":1.175},{"s":2,"t":260,"m":1.206},{"s":2,"t":280,"m":1.203},{"s":2,"t":300,"m":1.240},{"s":2,"t":320,"m":1.234},{"s":2,"t":340,"m":1.264},{"s":2,"t":360,"m":1.256},{"s":2,"t":380,"m":1.281},
{"s":2,"t":400,"m":1.272},{"s":2,"t":420,"m":1.294},{"s":2,"t":440,"m":1.280},{"s":2,"t":460,"m":1.302},{"s":2,"t":480,"m":1.278},{"s":2,"t":500,"m":1.291},{"s":2,"t":520,"m":1.268},{"s":2,"t":540,"m":1.282},{"s":2,"t":560,"m":1.258},{"s":2,"t":580,"m":1.274},
{"s":2,"t":600,"m":1.250},{"s":2,"t":620,"m":1.272},{"s":2,"t":640,"m":1.252},{"s":2,"t":660,"m":1.276},{"s":2,"t":680,"m":1.255},{"s":2,"t":700,"m":1.275},{"s":2,"t":720,"m":1.250},{"s":2,"t":740,"m":1.272},{"s":2,"t":760,"m":1.248},{"s":2,"t":780,"m":1.273},
{"s":2,"t":800,"m":1.250},{"s":2,"t":820,"m":1.275},{"s":2,"t":840,"m":1.255},{"s":2,"t":860,"m":1.280},{"s":2,"t":880,"m":1.258},{"s":2,"t":900,"m":1.282},{"s":2,"t":920,"m":1.260},{"s":2,"t":940,"m":1.278},{"s":2,"t":960,"m":1.255},{"s":2,"t":980,"m":1.275},{"s":2,"t":1000,"m":1.258},
{"s":3,"t":0,"m":1.000},{"s":3,"t":20,"m":1.022},{"s":3,"t":40,"m":1.026},{"s":3,"t":60,"m":1.054},{"s":3,"t":80,"m":1.052},{"s":3,"t":100,"m":1.078},{"s":3,"t":120,"m":1.068},{"s":3,"t":140,"m":1.088},{"s":3,"t":160,"m":1.080},{"s":3,"t":180,"m":1.101},
{"s":3,"t":200,"m":1.092},{"s":3,"t":220,"m":1.112},{"s":3,"t":240,"m":1.104},{"s":3,"t":260,"m":1.124},{"s":3,"t":280,"m":1.115},{"s":3,"t":300,"m":1.138},{"s":3,"t":320,"m":1.128},{"s":3,"t":340,"m":1.147},{"s":3,"t":360,"m":1.134},{"s":3,"t":380,"m":1.152},
{"s":3,"t":400,"m":1.137},{"s":3,"t":420,"m":1.153},{"s":3,"t":440,"m":1.136},{"s":3,"t":460,"m":1.150},{"s":3,"t":480,"m":1.133},{"s":3,"t":500,"m":1.148},{"s":3,"t":520,"m":1.130},{"s":3,"t":540,"m":1.146},{"s":3,"t":560,"m":1.128},{"s":3,"t":580,"m":1.143},
{"s":3,"t":600,"m":1.126},{"s":3,"t":620,"m":1.144},{"s":3,"t":640,"m":1.127},{"s":3,"t":660,"m":1.143},{"s":3,"t":680,"m":1.125},{"s":3,"t":700,"m":1.145},{"s":3,"t":720,"m":1.128},{"s":3,"t":740,"m":1.146},{"s":3,"t":760,"m":1.127},{"s":3,"t":780,"m":1.141},
{"s":3,"t":800,"m":1.122},{"s":3,"t":820,"m":1.138},{"s":3,"t":840,"m":1.120},{"s":3,"t":860,"m":1.139},{"s":3,"t":880,"m":1.122},{"s":3,"t":900,"m":1.140},{"s":3,"t":920,"m":1.121},{"s":3,"t":940,"m":1.138},{"s":3,"t":960,"m":1.120},{"s":3,"t":980,"m":1.135},{"s":3,"t":1000,"m":1.115},
{"s":4,"t":0,"m":1.000},{"s":4,"t":40,"m":1.024},{"s":4,"t":80,"m":1.022},{"s":4,"t":120,"m":1.039},{"s":4,"t":160,"m":1.031},{"s":4,"t":200,"m":1.046},{"s":4,"t":240,"m":1.038},{"s":4,"t":280,"m":1.051},{"s":4,"t":320,"m":1.040},{"s":4,"t":360,"m":1.050},{"s":4,"t":400,"m":1.040},{"s":4,"t":440,"m":1.049},{"s":4,"t":480,"m":1.036},
{"s":4,"t":520,"m":1.046},{"s":4,"t":560,"m":1.034},{"s":4,"t":600,"m":1.043},{"s":4,"t":640,"m":1.031},{"s":4,"t":680,"m":1.041},{"s":4,"t":720,"m":1.030},{"s":4,"t":760,"m":1.040},{"s":4,"t":800,"m":1.028},{"s":4,"t":840,"m":1.037},{"s":4,"t":880,"m":1.025},{"s":4,"t":920,"m":1.034},{"s":4,"t":960,"m":1.022},{"s":4,"t":1000,"m":1.025},
{"s":5,"t":0,"m":1.000},{"s":5,"t":50,"m":0.994},{"s":5,"t":100,"m":0.984},{"s":5,"t":150,"m":0.983},{"s":5,"t":200,"m":0.972},{"s":5,"t":250,"m":0.975},{"s":5,"t":300,"m":0.968},{"s":5,"t":350,"m":0.970},{"s":5,"t":400,"m":0.965},{"s":5,"t":450,"m":0.968},{"s":5,"t":500,"m":0.964},
{"s":5,"t":550,"m":0.967},{"s":5,"t":600,"m":0.963},{"s":5,"t":650,"m":0.966},{"s":5,"t":700,"m":0.963},{"s":5,"t":750,"m":0.966},{"s":5,"t":800,"m":0.962},{"s":5,"t":850,"m":0.965},{"s":5,"t":900,"m":0.962},{"s":5,"t":950,"m":0.965},{"s":5,"t":1000,"m":0.963},
{"s":6,"t":0,"m":1.000},{"s":6,"t":50,"m":0.989},{"s":6,"t":100,"m":0.986},{"s":6,"t":150,"m":0.977},{"s":6,"t":200,"m":0.975},{"s":6,"t":250,"m":0.968},{"s":6,"t":300,"m":0.968},{"s":6,"t":350,"m":0.964},{"s":6,"t":400,"m":0.965},{"s":6,"t":450,"m":0.962},{"s":6,"t":500,"m":0.964},
{"s":6,"t":550,"m":0.961},{"s":6,"t":600,"m":0.963},{"s":6,"t":650,"m":0.960},{"s":6,"t":700,"m":0.962},{"s":6,"t":750,"m":0.960},{"s":6,"t":800,"m":0.962},{"s":6,"t":850,"m":0.960},{"s":6,"t":900,"m":0.962},{"s":6,"t":950,"m":0.960},{"s":6,"t":1000,"m":0.961}
],
"D":[
{"s":1,"t":0,"m":1.000},{"s":1,"t":10,"m":1.068},{"s":1,"t":20,"m":1.088},{"s":1,"t":30,"m":1.177},{"s":1,"t":40,"m":1.179},{"s":1,"t":50,"m":1.262},{"s":1,"t":60,"m":1.264},{"s":1,"t":70,"m":1.370},{"s":1,"t":80,"m":1.440},{"s":1,"t":90,"m":1.438},
{"s":1,"t":100,"m":1.508},{"s":1,"t":110,"m":1.530},{"s":1,"t":120,"m":1.685},{"s":1,"t":130,"m":1.695},{"s":1,"t":140,"m":1.820},{"s":1,"t":150,"m":1.840},{"s":1,"t":160,"m":2.048},{"s":1,"t":170,"m":2.068},{"s":1,"t":180,"m":2.198},{"s":1,"t":190,"m":2.330},
{"s":1,"t":200,"m":2.158},{"s":1,"t":210,"m":2.172},{"s":1,"t":220,"m":2.028},{"s":1,"t":230,"m":2.006},{"s":1,"t":240,"m":2.125},{"s":1,"t":250,"m":2.220},{"s":1,"t":260,"m":2.044},{"s":1,"t":270,"m":2.180},{"s":1,"t":280,"m":2.084},{"s":1,"t":290,"m":2.060},
{"s":1,"t":300,"m":2.156},{"s":1,"t":310,"m":2.024},{"s":1,"t":320,"m":2.124},{"s":1,"t":330,"m":2.104},{"s":1,"t":340,"m":2.036},{"s":1,"t":350,"m":2.144},{"s":1,"t":360,"m":2.060},{"s":1,"t":370,"m":2.008},{"s":1,"t":380,"m":2.140},{"s":1,"t":390,"m":2.104},
{"s":1,"t":400,"m":2.068},{"s":1,"t":410,"m":2.172},{"s":1,"t":420,"m":2.044},{"s":1,"t":430,"m":2.140},{"s":1,"t":440,"m":2.084},{"s":1,"t":450,"m":2.124},{"s":1,"t":460,"m":2.026},{"s":1,"t":470,"m":2.160},{"s":1,"t":480,"m":2.030},{"s":1,"t":490,"m":2.076},
{"s":1,"t":500,"m":2.098},{"s":1,"t":510,"m":1.984},{"s":1,"t":520,"m":2.094},{"s":1,"t":530,"m":2.044},{"s":1,"t":540,"m":2.138},{"s":1,"t":550,"m":2.032},{"s":1,"t":560,"m":2.170},{"s":1,"t":570,"m":2.096},{"s":1,"t":580,"m":1.940},{"s":1,"t":590,"m":2.040},
{"s":1,"t":600,"m":1.964},{"s":1,"t":610,"m":1.880},{"s":1,"t":620,"m":1.956},{"s":1,"t":630,"m":2.016},{"s":1,"t":640,"m":1.940},{"s":1,"t":650,"m":2.048},{"s":1,"t":660,"m":1.988},{"s":1,"t":670,"m":2.056},{"s":1,"t":680,"m":1.916},{"s":1,"t":690,"m":2.000},
{"s":1,"t":700,"m":2.020},{"s":1,"t":710,"m":1.942},{"s":1,"t":720,"m":2.160},{"s":1,"t":730,"m":1.986},{"s":1,"t":740,"m":2.052},{"s":1,"t":750,"m":1.966},{"s":1,"t":760,"m":2.076},{"s":1,"t":770,"m":1.970},{"s":1,"t":780,"m":2.008},{"s":1,"t":790,"m":2.062},
{"s":1,"t":800,"m":1.924},{"s":1,"t":810,"m":1.998},{"s":1,"t":820,"m":1.952},{"s":1,"t":830,"m":2.010},{"s":1,"t":840,"m":1.860},{"s":1,"t":850,"m":2.014},{"s":1,"t":860,"m":1.928},{"s":1,"t":870,"m":2.010},{"s":1,"t":880,"m":1.932},{"s":1,"t":890,"m":2.006},
{"s":1,"t":900,"m":2.150},{"s":1,"t":910,"m":1.972},{"s":1,"t":920,"m":1.928},{"s":1,"t":930,"m":2.044},{"s":1,"t":940,"m":1.976},{"s":1,"t":950,"m":2.120},{"s":1,"t":960,"m":1.908},{"s":1,"t":970,"m":2.028},{"s":1,"t":980,"m":1.940},{"s":1,"t":990,"m":2.004},{"s":1,"t":1000,"m":1.964},
{"s":2,"t":0,"m":1.000},{"s":2,"t":20,"m":1.088},{"s":2,"t":40,"m":1.125},{"s":2,"t":60,"m":1.225},{"s":2,"t":80,"m":1.242},{"s":2,"t":100,"m":1.345},{"s":2,"t":120,"m":1.362},{"s":2,"t":140,"m":1.478},{"s":2,"t":160,"m":1.482},{"s":2,"t":180,"m":1.590},
{"s":2,"t":200,"m":1.650},{"s":2,"t":220,"m":1.555},{"s":2,"t":240,"m":1.584},{"s":2,"t":260,"m":1.548},{"s":2,"t":280,"m":1.600},{"s":2,"t":300,"m":1.565},{"s":2,"t":320,"m":1.602},{"s":2,"t":340,"m":1.560},{"s":2,"t":360,"m":1.598},{"s":2,"t":380,"m":1.548},
{"s":2,"t":400,"m":1.578},{"s":2,"t":420,"m":1.540},{"s":2,"t":440,"m":1.572},{"s":2,"t":460,"m":1.530},{"s":2,"t":480,"m":1.510},{"s":2,"t":500,"m":1.495},{"s":2,"t":520,"m":1.532},{"s":2,"t":540,"m":1.545},{"s":2,"t":560,"m":1.575},{"s":2,"t":580,"m":1.515},
{"s":2,"t":600,"m":1.510},{"s":2,"t":620,"m":1.470},{"s":2,"t":640,"m":1.500},{"s":2,"t":660,"m":1.462},{"s":2,"t":680,"m":1.495},{"s":2,"t":700,"m":1.478},{"s":2,"t":720,"m":1.520},{"s":2,"t":740,"m":1.538},{"s":2,"t":760,"m":1.550},{"s":2,"t":780,"m":1.490},
{"s":2,"t":800,"m":1.465},{"s":2,"t":820,"m":1.490},{"s":2,"t":840,"m":1.455},{"s":2,"t":860,"m":1.488},{"s":2,"t":880,"m":1.462},{"s":2,"t":900,"m":1.492},{"s":2,"t":920,"m":1.448},{"s":2,"t":940,"m":1.420},{"s":2,"t":960,"m":1.478},{"s":2,"t":980,"m":1.450},{"s":2,"t":1000,"m":1.475},
{"s":3,"t":0,"m":1.000},{"s":3,"t":20,"m":1.072},{"s":3,"t":40,"m":1.090},{"s":3,"t":60,"m":1.158},{"s":3,"t":80,"m":1.160},{"s":3,"t":100,"m":1.205},{"s":3,"t":120,"m":1.192},{"s":3,"t":140,"m":1.228},{"s":3,"t":160,"m":1.214},{"s":3,"t":180,"m":1.250},
{"s":3,"t":200,"m":1.238},{"s":3,"t":220,"m":1.268},{"s":3,"t":240,"m":1.250},{"s":3,"t":260,"m":1.282},{"s":3,"t":280,"m":1.255},{"s":3,"t":300,"m":1.288},{"s":3,"t":320,"m":1.262},{"s":3,"t":340,"m":1.285},{"s":3,"t":360,"m":1.250},{"s":3,"t":380,"m":1.276},
{"s":3,"t":400,"m":1.248},{"s":3,"t":420,"m":1.262},{"s":3,"t":440,"m":1.225},{"s":3,"t":460,"m":1.248},{"s":3,"t":480,"m":1.215},{"s":3,"t":500,"m":1.245},{"s":3,"t":520,"m":1.212},{"s":3,"t":540,"m":1.240},{"s":3,"t":560,"m":1.208},{"s":3,"t":580,"m":1.236},
{"s":3,"t":600,"m":1.212},{"s":3,"t":620,"m":1.232},{"s":3,"t":640,"m":1.205},{"s":3,"t":660,"m":1.228},{"s":3,"t":680,"m":1.198},{"s":3,"t":700,"m":1.225},{"s":3,"t":720,"m":1.200},{"s":3,"t":740,"m":1.228},{"s":3,"t":760,"m":1.195},{"s":3,"t":780,"m":1.215},
{"s":3,"t":800,"m":1.188},{"s":3,"t":820,"m":1.210},{"s":3,"t":840,"m":1.185},{"s":3,"t":860,"m":1.205},{"s":3,"t":880,"m":1.180},{"s":3,"t":900,"m":1.200},{"s":3,"t":920,"m":1.178},{"s":3,"t":940,"m":1.198},{"s":3,"t":960,"m":1.175},{"s":3,"t":980,"m":1.195},{"s":3,"t":1000,"m":1.180},
{"s":4,"t":0,"m":1.000},{"s":4,"t":40,"m":1.052},{"s":4,"t":80,"m":1.048},{"s":4,"t":120,"m":1.066},{"s":4,"t":160,"m":1.050},{"s":4,"t":200,"m":1.062},{"s":4,"t":240,"m":1.046},{"s":4,"t":280,"m":1.058},{"s":4,"t":320,"m":1.042},{"s":4,"t":360,"m":1.056},{"s":4,"t":400,"m":1.040},{"s":4,"t":440,"m":1.054},{"s":4,"t":480,"m":1.038},
{"s":4,"t":520,"m":1.052},{"s":4,"t":560,"m":1.036},{"s":4,"t":600,"m":1.048},{"s":4,"t":640,"m":1.034},{"s":4,"t":680,"m":1.046},{"s":4,"t":720,"m":1.032},{"s":4,"t":760,"m":1.043},{"s":4,"t":800,"m":1.030},{"s":4,"t":840,"m":1.040},{"s":4,"t":880,"m":1.027},{"s":4,"t":920,"m":1.036},{"s":4,"t":960,"m":1.024},{"s":4,"t":1000,"m":1.025},
{"s":5,"t":0,"m":1.000},{"s":5,"t":50,"m":0.978},{"s":5,"t":100,"m":0.966},{"s":5,"t":150,"m":0.960},{"s":5,"t":200,"m":0.955},{"s":5,"t":250,"m":0.953},{"s":5,"t":300,"m":0.951},{"s":5,"t":350,"m":0.950},{"s":5,"t":400,"m":0.949},{"s":5,"t":450,"m":0.949},{"s":5,"t":500,"m":0.948},
{"s":5,"t":550,"m":0.948},{"s":5,"t":600,"m":0.947},{"s":5,"t":650,"m":0.947},{"s":5,"t":700,"m":0.946},{"s":5,"t":750,"m":0.946},{"s":5,"t":800,"m":0.946},{"s":5,"t":850,"m":0.945},{"s":5,"t":900,"m":0.945},{"s":5,"t":950,"m":0.945},{"s":5,"t":1000,"m":0.944},
{"s":6,"t":0,"m":1.000},{"s":6,"t":50,"m":0.972},{"s":6,"t":100,"m":0.962},{"s":6,"t":150,"m":0.956},{"s":6,"t":200,"m":0.952},{"s":6,"t":250,"m":0.950},{"s":6,"t":300,"m":0.948},{"s":6,"t":350,"m":0.947},{"s":6,"t":400,"m":0.946},{"s":6,"t":450,"m":0.946},{"s":6,"t":500,"m":0.945},
{"s":6,"t":550,"m":0.945},{"s":6,"t":600,"m":0.944},{"s":6,"t":650,"m":0.944},{"s":6,"t":700,"m":0.944},{"s":6,"t":750,"m":0.943},{"s":6,"t":800,"m":0.943},{"s":6,"t":850,"m":0.943},{"s":6,"t":900,"m":0.943},{"s":6,"t":950,"m":0.942},{"s":6,"t":1000,"m":0.942}
],
"E":[
{"s":1,"t":0,"m":1.000},{"s":1,"t":10,"m":1.236},{"s":1,"t":20,"m":1.468},{"s":1,"t":30,"m":1.890},{"s":1,"t":40,"m":1.930},{"s":1,"t":50,"m":2.230},{"s":1,"t":60,"m":2.410},{"s":1,"t":70,"m":2.750},{"s":1,"t":80,"m":3.400},{"s":1,"t":90,"m":2.984},
{"s":1,"t":100,"m":3.144},{"s":1,"t":110,"m":2.620},{"s":1,"t":120,"m":3.480},{"s":1,"t":130,"m":2.970},{"s":1,"t":140,"m":3.158},{"s":1,"t":150,"m":2.620},{"s":1,"t":160,"m":3.440},{"s":1,"t":170,"m":2.986},{"s":1,"t":180,"m":3.152},{"s":1,"t":190,"m":2.878},
{"s":1,"t":200,"m":3.022},{"s":1,"t":210,"m":3.208},{"s":1,"t":220,"m":2.932},{"s":1,"t":230,"m":2.670},{"s":1,"t":240,"m":3.150},{"s":1,"t":250,"m":3.116},{"s":1,"t":260,"m":2.926},{"s":1,"t":270,"m":3.460},{"s":1,"t":280,"m":3.106},{"s":1,"t":290,"m":2.940},
{"s":1,"t":300,"m":3.104},{"s":1,"t":310,"m":2.742},{"s":1,"t":320,"m":3.018},{"s":1,"t":330,"m":2.964},{"s":1,"t":340,"m":2.778},{"s":1,"t":350,"m":3.076},{"s":1,"t":360,"m":2.794},{"s":1,"t":370,"m":2.610},{"s":1,"t":380,"m":2.922},{"s":1,"t":390,"m":2.782},
{"s":1,"t":400,"m":2.632},{"s":1,"t":410,"m":2.938},{"s":1,"t":420,"m":2.500},{"s":1,"t":430,"m":2.880},{"s":1,"t":440,"m":2.736},{"s":1,"t":450,"m":2.866},{"s":1,"t":460,"m":2.674},{"s":1,"t":470,"m":3.120},{"s":1,"t":480,"m":2.500},{"s":1,"t":490,"m":3.250},
{"s":1,"t":500,"m":3.032},{"s":1,"t":510,"m":2.662},{"s":1,"t":520,"m":2.908},{"s":1,"t":530,"m":2.714},{"s":1,"t":540,"m":2.916},{"s":1,"t":550,"m":2.360},{"s":1,"t":560,"m":2.732},{"s":1,"t":570,"m":2.874},{"s":1,"t":580,"m":2.510},{"s":1,"t":590,"m":2.850},
{"s":1,"t":600,"m":2.706},{"s":1,"t":610,"m":3.100},{"s":1,"t":620,"m":2.650},{"s":1,"t":630,"m":2.798},{"s":1,"t":640,"m":2.572},{"s":1,"t":650,"m":2.852},{"s":1,"t":660,"m":2.748},{"s":1,"t":670,"m":2.996},{"s":1,"t":680,"m":2.662},{"s":1,"t":690,"m":2.954},
{"s":1,"t":700,"m":3.380},{"s":1,"t":710,"m":2.788},{"s":1,"t":720,"m":3.100},{"s":1,"t":730,"m":2.784},{"s":1,"t":740,"m":2.898},{"s":1,"t":750,"m":2.604},{"s":1,"t":760,"m":2.914},{"s":1,"t":770,"m":2.630},{"s":1,"t":780,"m":2.742},{"s":1,"t":790,"m":2.798},
{"s":1,"t":800,"m":2.220},{"s":1,"t":810,"m":2.541},{"s":1,"t":820,"m":2.456},{"s":1,"t":830,"m":2.702},{"s":1,"t":840,"m":2.410},{"s":1,"t":850,"m":2.876},{"s":1,"t":860,"m":2.662},{"s":1,"t":870,"m":3.250},{"s":1,"t":880,"m":2.618},{"s":1,"t":890,"m":2.744},
{"s":1,"t":900,"m":2.848},{"s":1,"t":910,"m":2.574},{"s":1,"t":920,"m":2.454},{"s":1,"t":930,"m":2.774},{"s":1,"t":940,"m":2.588},{"s":1,"t":950,"m":2.688},{"s":1,"t":960,"m":2.442},{"s":1,"t":970,"m":2.812},{"s":1,"t":980,"m":2.610},{"s":1,"t":990,"m":3.100},{"s":1,"t":1000,"m":2.800},
{"s":2,"t":0,"m":1.000},{"s":2,"t":20,"m":1.320},{"s":2,"t":40,"m":1.570},{"s":2,"t":60,"m":1.840},{"s":2,"t":80,"m":1.900},{"s":2,"t":100,"m":2.030},{"s":2,"t":120,"m":1.990},{"s":2,"t":140,"m":2.090},{"s":2,"t":160,"m":1.920},{"s":2,"t":180,"m":2.010},
{"s":2,"t":200,"m":1.900},{"s":2,"t":220,"m":2.020},{"s":2,"t":240,"m":1.910},{"s":2,"t":260,"m":2.040},{"s":2,"t":280,"m":1.920},{"s":2,"t":300,"m":1.900},{"s":2,"t":320,"m":1.820},{"s":2,"t":340,"m":1.900},{"s":2,"t":360,"m":1.810},{"s":2,"t":380,"m":1.880},
{"s":2,"t":400,"m":1.720},{"s":2,"t":420,"m":1.800},{"s":2,"t":440,"m":1.710},{"s":2,"t":460,"m":1.800},{"s":2,"t":480,"m":1.720},{"s":2,"t":500,"m":1.790},{"s":2,"t":520,"m":1.700},{"s":2,"t":540,"m":1.780},{"s":2,"t":560,"m":1.680},{"s":2,"t":580,"m":1.750},
{"s":2,"t":600,"m":1.660},{"s":2,"t":620,"m":1.760},{"s":2,"t":640,"m":1.700},{"s":2,"t":660,"m":1.790},{"s":2,"t":680,"m":1.700},{"s":2,"t":700,"m":1.760},{"s":2,"t":720,"m":1.680},{"s":2,"t":740,"m":1.740},{"s":2,"t":760,"m":1.650},{"s":2,"t":780,"m":1.700},
{"s":2,"t":800,"m":1.570},{"s":2,"t":820,"m":1.620},{"s":2,"t":840,"m":1.560},{"s":2,"t":860,"m":1.660},{"s":2,"t":880,"m":1.570},{"s":2,"t":900,"m":1.640},{"s":2,"t":920,"m":1.560},{"s":2,"t":940,"m":1.650},{"s":2,"t":960,"m":1.580},{"s":2,"t":980,"m":1.680},{"s":2,"t":1000,"m":1.620},
{"s":3,"t":0,"m":1.000},{"s":3,"t":20,"m":1.170},{"s":3,"t":40,"m":1.255},{"s":3,"t":60,"m":1.360},{"s":3,"t":80,"m":1.340},{"s":3,"t":100,"m":1.400},{"s":3,"t":120,"m":1.355},{"s":3,"t":140,"m":1.405},{"s":3,"t":160,"m":1.350},{"s":3,"t":180,"m":1.400},
{"s":3,"t":200,"m":1.345},{"s":3,"t":220,"m":1.390},{"s":3,"t":240,"m":1.330},{"s":3,"t":260,"m":1.370},{"s":3,"t":280,"m":1.310},{"s":3,"t":300,"m":1.345},{"s":3,"t":320,"m":1.295},{"s":3,"t":340,"m":1.330},{"s":3,"t":360,"m":1.280},{"s":3,"t":380,"m":1.315},
{"s":3,"t":400,"m":1.255},{"s":3,"t":420,"m":1.300},{"s":3,"t":440,"m":1.245},{"s":3,"t":460,"m":1.290},{"s":3,"t":480,"m":1.235},{"s":3,"t":500,"m":1.280},{"s":3,"t":520,"m":1.225},{"s":3,"t":540,"m":1.265},{"s":3,"t":560,"m":1.215},{"s":3,"t":580,"m":1.255},
{"s":3,"t":600,"m":1.205},{"s":3,"t":620,"m":1.250},{"s":3,"t":640,"m":1.200},{"s":3,"t":660,"m":1.245},{"s":3,"t":680,"m":1.195},{"s":3,"t":700,"m":1.240},{"s":3,"t":720,"m":1.190},{"s":3,"t":740,"m":1.230},{"s":3,"t":760,"m":1.180},{"s":3,"t":780,"m":1.225},
{"s":3,"t":800,"m":1.175},{"s":3,"t":820,"m":1.215},{"s":3,"t":840,"m":1.165},{"s":3,"t":860,"m":1.205},{"s":3,"t":880,"m":1.160},{"s":3,"t":900,"m":1.200},{"s":3,"t":920,"m":1.150},{"s":3,"t":940,"m":1.195},{"s":3,"t":960,"m":1.150},{"s":3,"t":980,"m":1.190},{"s":3,"t":1000,"m":1.160},
{"s":4,"t":0,"m":1.000},{"s":4,"t":40,"m":1.080},{"s":4,"t":80,"m":1.065},{"s":4,"t":120,"m":1.085},{"s":4,"t":160,"m":1.060},{"s":4,"t":200,"m":1.075},{"s":4,"t":240,"m":1.055},{"s":4,"t":280,"m":1.070},{"s":4,"t":320,"m":1.048},{"s":4,"t":360,"m":1.065},{"s":4,"t":400,"m":1.042},{"s":4,"t":440,"m":1.058},{"s":4,"t":480,"m":1.038},
{"s":4,"t":520,"m":1.052},{"s":4,"t":560,"m":1.032},{"s":4,"t":600,"m":1.046},{"s":4,"t":640,"m":1.026},{"s":4,"t":680,"m":1.040},{"s":4,"t":720,"m":1.020},{"s":4,"t":760,"m":1.034},{"s":4,"t":800,"m":1.012},{"s":4,"t":840,"m":1.026},{"s":4,"t":880,"m":1.004},{"s":4,"t":920,"m":1.018},{"s":4,"t":960,"m":0.998},{"s":4,"t":1000,"m":1.005},
{"s":5,"t":0,"m":1.000},{"s":5,"t":25,"m":0.970},{"s":5,"t":50,"m":0.955},{"s":5,"t":100,"m":0.945},{"s":5,"t":150,"m":0.942},{"s":5,"t":200,"m":0.940},{"s":5,"t":250,"m":0.938},{"s":5,"t":300,"m":0.937},{"s":5,"t":350,"m":0.936},{"s":5,"t":400,"m":0.936},{"s":5,"t":450,"m":0.935},{"s":5,"t":500,"m":0.935},
{"s":5,"t":550,"m":0.935},{"s":5,"t":600,"m":0.934},{"s":5,"t":650,"m":0.934},{"s":5,"t":700,"m":0.934},{"s":5,"t":750,"m":0.934},{"s":5,"t":800,"m":0.933},{"s":5,"t":850,"m":0.933},{"s":5,"t":900,"m":0.933},{"s":5,"t":950,"m":0.933},{"s":5,"t":1000,"m":0.933},
{"s":6,"t":0,"m":1.000},{"s":6,"t":25,"m":0.960},{"s":6,"t":50,"m":0.945},{"s":6,"t":100,"m":0.940},{"s":6,"t":150,"m":0.937},{"s":6,"t":200,"m":0.935},{"s":6,"t":300,"m":0.933},{"s":6,"t":400,"m":0.932},{"s":6,"t":500,"m":0.931},{"s":6,"t":600,"m":0.931},{"s":6,"t":700,"m":0.930},{"s":6,"t":800,"m":0.930},{"s":6,"t":900,"m":0.930},{"s":6,"t":1000,"m":0.930}
],
"F":[
{"s":1,"t":0,"m":1.00},{"s":1,"t":10,"m":2.10},{"s":1,"t":20,"m":3.00},{"s":1,"t":30,"m":4.30},{"s":1,"t":40,"m":5.30},{"s":1,"t":50,"m":4.70},{"s":1,"t":60,"m":5.60},{"s":1,"t":70,"m":4.80},{"s":1,"t":80,"m":5.70},{"s":1,"t":90,"m":3.90},
{"s":1,"t":100,"m":4.70},{"s":1,"t":110,"m":4.10},{"s":1,"t":120,"m":5.40},{"s":1,"t":130,"m":4.60},{"s":1,"t":140,"m":5.70},{"s":1,"t":150,"m":4.90},{"s":1,"t":160,"m":6.30},{"s":1,"t":170,"m":4.40},{"s":1,"t":180,"m":5.00},{"s":1,"t":190,"m":4.20},
{"s":1,"t":200,"m":4.80},{"s":1,"t":210,"m":3.60},{"s":1,"t":220,"m":4.10},{"s":1,"t":230,"m":3.10},{"s":1,"t":240,"m":4.50},{"s":1,"t":250,"m":4.90},{"s":1,"t":260,"m":4.10},{"s":1,"t":270,"m":5.60},{"s":1,"t":280,"m":4.30},{"s":1,"t":290,"m":4.50},
{"s":1,"t":300,"m":5.00},{"s":1,"t":310,"m":3.70},{"s":1,"t":320,"m":4.70},{"s":1,"t":330,"m":3.50},{"s":1,"t":340,"m":5.10},{"s":1,"t":350,"m":4.00},{"s":1,"t":360,"m":3.60},{"s":1,"t":370,"m":5.40},{"s":1,"t":380,"m":4.20},{"s":1,"t":390,"m":4.70},
{"s":1,"t":400,"m":4.40},{"s":1,"t":410,"m":3.60},{"s":1,"t":420,"m":4.80},{"s":1,"t":430,"m":4.00},{"s":1,"t":440,"m":4.50},{"s":1,"t":450,"m":2.90},{"s":1,"t":460,"m":4.00},{"s":1,"t":470,"m":4.40},{"s":1,"t":480,"m":4.80},{"s":1,"t":490,"m":4.00},
{"s":1,"t":500,"m":5.30},{"s":1,"t":510,"m":4.30},{"s":1,"t":520,"m":5.10},{"s":1,"t":530,"m":4.50},{"s":1,"t":540,"m":4.90},{"s":1,"t":550,"m":4.30},{"s":1,"t":560,"m":4.10},{"s":1,"t":570,"m":4.60},{"s":1,"t":580,"m":3.50},{"s":1,"t":590,"m":4.40},
{"s":1,"t":600,"m":3.90},{"s":1,"t":610,"m":4.60},{"s":1,"t":620,"m":4.20},{"s":1,"t":630,"m":5.00},{"s":1,"t":640,"m":3.70},{"s":1,"t":650,"m":4.50},{"s":1,"t":660,"m":3.40},{"s":1,"t":670,"m":4.20},{"s":1,"t":680,"m":4.80},{"s":1,"t":690,"m":4.40},
{"s":1,"t":700,"m":5.70},{"s":1,"t":710,"m":4.60},{"s":1,"t":720,"m":5.30},{"s":1,"t":730,"m":4.50},{"s":1,"t":740,"m":5.60},{"s":1,"t":750,"m":4.30},{"s":1,"t":760,"m":4.70},{"s":1,"t":770,"m":3.70},{"s":1,"t":780,"m":4.10},{"s":1,"t":790,"m":3.00},
{"s":1,"t":800,"m":3.40},{"s":1,"t":810,"m":2.70},{"s":1,"t":820,"m":3.80},{"s":1,"t":830,"m":3.30},{"s":1,"t":840,"m":4.40},{"s":1,"t":850,"m":3.40},{"s":1,"t":860,"m":3.90},{"s":1,"t":870,"m":3.00},{"s":1,"t":880,"m":4.50},{"s":1,"t":890,"m":3.30},
{"s":1,"t":900,"m":4.00},{"s":1,"t":910,"m":3.40},{"s":1,"t":920,"m":4.50},{"s":1,"t":930,"m":3.60},{"s":1,"t":940,"m":3.30},{"s":1,"t":950,"m":4.10},{"s":1,"t":960,"m":3.10},{"s":1,"t":970,"m":3.60},{"s":1,"t":980,"m":3.40},{"s":1,"t":990,"m":3.90},{"s":1,"t":1000,"m":4.80},
{"s":2,"t":0,"m":1.00},{"s":2,"t":20,"m":1.90},{"s":2,"t":40,"m":2.90},{"s":2,"t":60,"m":2.60},{"s":2,"t":80,"m":2.80},{"s":2,"t":100,"m":2.35},{"s":2,"t":120,"m":2.60},{"s":2,"t":140,"m":2.50},{"s":2,"t":160,"m":2.95},{"s":2,"t":180,"m":2.40},
{"s":2,"t":200,"m":2.20},{"s":2,"t":220,"m":2.00},{"s":2,"t":240,"m":2.40},{"s":2,"t":260,"m":2.15},{"s":2,"t":280,"m":2.45},{"s":2,"t":300,"m":2.05},{"s":2,"t":320,"m":2.25},{"s":2,"t":340,"m":2.00},{"s":2,"t":360,"m":2.20},{"s":2,"t":380,"m":2.30},
{"s":2,"t":400,"m":2.05},{"s":2,"t":420,"m":2.15},{"s":2,"t":440,"m":1.85},{"s":2,"t":460,"m":1.95},{"s":2,"t":480,"m":1.85},{"s":2,"t":500,"m":2.00},{"s":2,"t":520,"m":1.85},{"s":2,"t":540,"m":2.05},{"s":2,"t":560,"m":1.80},{"s":2,"t":580,"m":1.95},
{"s":2,"t":600,"m":1.75},{"s":2,"t":620,"m":1.90},{"s":2,"t":640,"m":1.65},{"s":2,"t":660,"m":1.80},{"s":2,"t":680,"m":1.85},{"s":2,"t":700,"m":1.95},{"s":2,"t":720,"m":1.80},{"s":2,"t":740,"m":1.95},{"s":2,"t":760,"m":1.60},{"s":2,"t":780,"m":1.65},
{"s":2,"t":800,"m":1.50},{"s":2,"t":820,"m":1.58},{"s":2,"t":840,"m":1.48},{"s":2,"t":860,"m":1.60},{"s":2,"t":880,"m":1.50},{"s":2,"t":900,"m":1.58},{"s":2,"t":920,"m":1.45},{"s":2,"t":940,"m":1.55},{"s":2,"t":960,"m":1.45},{"s":2,"t":980,"m":1.52},{"s":2,"t":1000,"m":1.55},
{"s":3,"t":0,"m":1.00},{"s":3,"t":20,"m":1.30},{"s":3,"t":40,"m":1.45},{"s":3,"t":60,"m":1.50},{"s":3,"t":80,"m":1.55},{"s":3,"t":100,"m":1.45},{"s":3,"t":120,"m":1.52},{"s":3,"t":140,"m":1.44},{"s":3,"t":160,"m":1.48},{"s":3,"t":180,"m":1.38},
{"s":3,"t":200,"m":1.40},{"s":3,"t":220,"m":1.32},{"s":3,"t":240,"m":1.36},{"s":3,"t":260,"m":1.28},{"s":3,"t":280,"m":1.30},{"s":3,"t":300,"m":1.24},{"s":3,"t":320,"m":1.28},{"s":3,"t":340,"m":1.22},{"s":3,"t":360,"m":1.27},{"s":3,"t":380,"m":1.24},
{"s":3,"t":400,"m":1.26},{"s":3,"t":420,"m":1.20},{"s":3,"t":440,"m":1.24},{"s":3,"t":460,"m":1.15},{"s":3,"t":480,"m":1.18},{"s":3,"t":500,"m":1.14},{"s":3,"t":520,"m":1.16},{"s":3,"t":540,"m":1.12},{"s":3,"t":560,"m":1.16},{"s":3,"t":580,"m":1.12},
{"s":3,"t":600,"m":1.14},{"s":3,"t":620,"m":1.10},{"s":3,"t":640,"m":1.13},{"s":3,"t":660,"m":1.09},{"s":3,"t":680,"m":1.14},{"s":3,"t":700,"m":1.10},{"s":3,"t":720,"m":1.12},{"s":3,"t":740,"m":1.08},{"s":3,"t":760,"m":1.12},{"s":3,"t":780,"m":1.07},
{"s":3,"t":800,"m":1.10},{"s":3,"t":820,"m":1.06},{"s":3,"t":840,"m":1.09},{"s":3,"t":860,"m":1.05},{"s":3,"t":880,"m":1.08},{"s":3,"t":900,"m":1.04},{"s":3,"t":920,"m":1.08},{"s":3,"t":940,"m":1.04},{"s":3,"t":960,"m":1.06},{"s":3,"t":980,"m":1.02},{"s":3,"t":1000,"m":1.04},
{"s":4,"t":0,"m":1.00},{"s":4,"t":40,"m":1.06},{"s":4,"t":80,"m":1.08},{"s":4,"t":120,"m":1.04},{"s":4,"t":160,"m":1.07},{"s":4,"t":200,"m":1.03},{"s":4,"t":240,"m":1.06},{"s":4,"t":280,"m":1.02},{"s":4,"t":320,"m":1.05},{"s":4,"t":360,"m":1.01},{"s":4,"t":400,"m":1.04},{"s":4,"t":440,"m":1.01},{"s":4,"t":480,"m":1.03},
{"s":4,"t":520,"m":1.00},{"s":4,"t":560,"m":1.03},{"s":4,"t":600,"m":0.99},{"s":4,"t":640,"m":1.02},{"s":4,"t":680,"m":0.99},{"s":4,"t":720,"m":1.02},{"s":4,"t":760,"m":0.98},{"s":4,"t":800,"m":1.01},{"s":4,"t":840,"m":0.98},{"s":4,"t":880,"m":1.01},{"s":4,"t":920,"m":0.98},{"s":4,"t":960,"m":1.00},{"s":4,"t":1000,"m":0.98},
{"s":5,"t":0,"m":1.000},{"s":5,"t":10,"m":0.960},{"s":5,"t":25,"m":0.935},{"s":5,"t":50,"m":0.925},{"s":5,"t":100,"m":0.922},{"s":5,"t":200,"m":0.920},{"s":5,"t":300,"m":0.920},{"s":5,"t":400,"m":0.918},{"s":5,"t":500,"m":0.918},{"s":5,"t":600,"m":0.917},{"s":5,"t":700,"m":0.917},{"s":5,"t":800,"m":0.916},{"s":5,"t":900,"m":0.916},{"s":5,"t":1000,"m":0.915},
{"s":6,"t":0,"m":1.000},{"s":6,"t":10,"m":0.950},{"s":6,"t":25,"m":0.930},{"s":6,"t":50,"m":0.920},{"s":6,"t":100,"m":0.918},{"s":6,"t":200,"m":0.916},{"s":6,"t":300,"m":0.915},{"s":6,"t":400,"m":0.914},{"s":6,"t":500,"m":0.914},{"s":6,"t":600,"m":0.913},{"s":6,"t":700,"m":0.913},{"s":6,"t":800,"m":0.912},{"s":6,"t":900,"m":0.912},{"s":6,"t":1000,"m":0.912}
]
}
}
